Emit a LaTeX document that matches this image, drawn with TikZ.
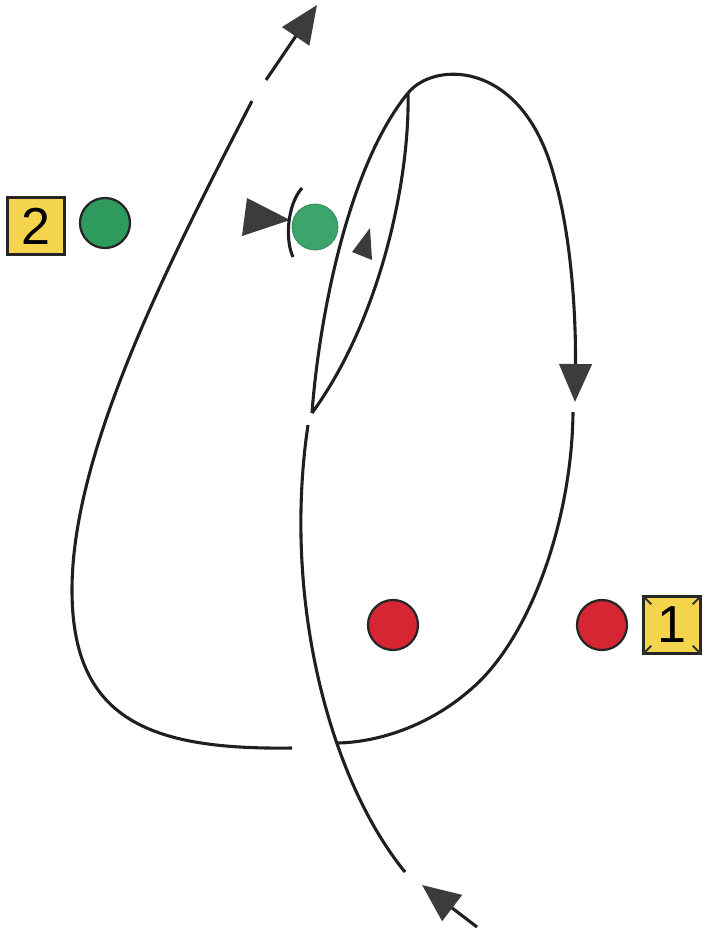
\documentclass[tikz,border=0pt]{standalone}
\usepackage{fontspec}
\setmainfont{Liberation Sans}
\usetikzlibrary{arrows.meta}
\definecolor{padyellow}{HTML}{F4D44C}
\definecolor{marshgreen}{HTML}{2F9A5E}
\definecolor{shotgreen}{HTML}{3BA56C}
\definecolor{flagred}{HTML}{D62634}
\definecolor{tipgrey}{HTML}{3C3C3C}
\tikzset{
  numbox/.style={draw=black!85,fill=padyellow,line width=1.8pt,minimum size=1.42cm,
    inner sep=0pt,font=\fontsize{37}{40}\selectfont},
  greendot/.style={circle,draw=black!85,fill=marshgreen,line width=1.6pt,
    minimum size=1.25cm,inner sep=0pt},
  reddot/.style={circle,draw=black!85,fill=flagred,line width=1.6pt,
    minimum size=1.25cm,inner sep=0pt},
  flightline/.style={line width=2.2pt,draw=black!88},
  flightarrow/.style={flightline,-{Triangle[length=27pt,width=23pt,color=tipgrey]}},
  cornertick/.style={line width=1.3pt,draw=black!80}
}

\begin{document}
\begin{tikzpicture}[x=0.025cm,y=-0.025cm]
  \useasboundingbox (0,0) rectangle (707,932);

  % markers
  \node[numbox] (pad2) at (36,226) {2};
  \node[greendot] (green2) at (105,223) {};
  \node[circle,fill=shotgreen,draw=shotgreen!80!black,line width=0.5pt,
    minimum size=1.15cm,inner sep=0pt] (shot) at (315,227) {};
  \node[reddot] (redin) at (393,625) {};
  \node[reddot] (redout) at (602,625) {};
  \node[numbox] (pad1) at (672,625) {1};
  \draw[cornertick] (pad1.north west) -- ++(9,9);
  \draw[cornertick] (pad1.north east) -- ++(-9,9);
  \draw[cornertick] (pad1.south west) -- ++(9,-9);
  \draw[cornertick] (pad1.south east) -- ++(-9,-9);

  % key points of the track
  \coordinate (low) at (312,413);
  \coordinate (top) at (408,93);

  % incoming leg
  \draw[flightarrow] (477,927) -- (422,885);
  \draw[flightline] (405,872) .. controls (330,780) and (282,600) .. (308,425);

  % narrow turn
  \draw[flightline] (low) .. controls (318,330) and (345,170) .. (top);
  \draw[flightline] (top) .. controls (410,180) and (380,320) .. (low);

  % big right loop
  \draw[flightarrow] (top) .. controls (435,60) and (525,60) .. (555,180)
    .. controls (572,240) and (576,320) .. (575,402);
  \draw[flightline] (573,412) .. controls (572,520) and (530,640) .. (470,690)
    .. controls (430,725) and (380,742) .. (338,743);

  % left loop and exit
  \draw[flightline] (292,748) .. controls (150,750) and (72,720) .. (72,590)
    .. controls (72,450) and (170,260) .. (252,101);
  \draw[flightarrow] (266,80) -- (317,5);

  % shot symbols
  \fill[tipgrey] (247,198) -- (290,220) -- (242,236) -- cycle;
  \draw[flightline] (302,188) .. controls (287,205) and (285,240) .. (293,257);
  \fill[tipgrey] (370,228) -- (372,260) -- (352,252) -- cycle;
\end{tikzpicture}
\end{document}
